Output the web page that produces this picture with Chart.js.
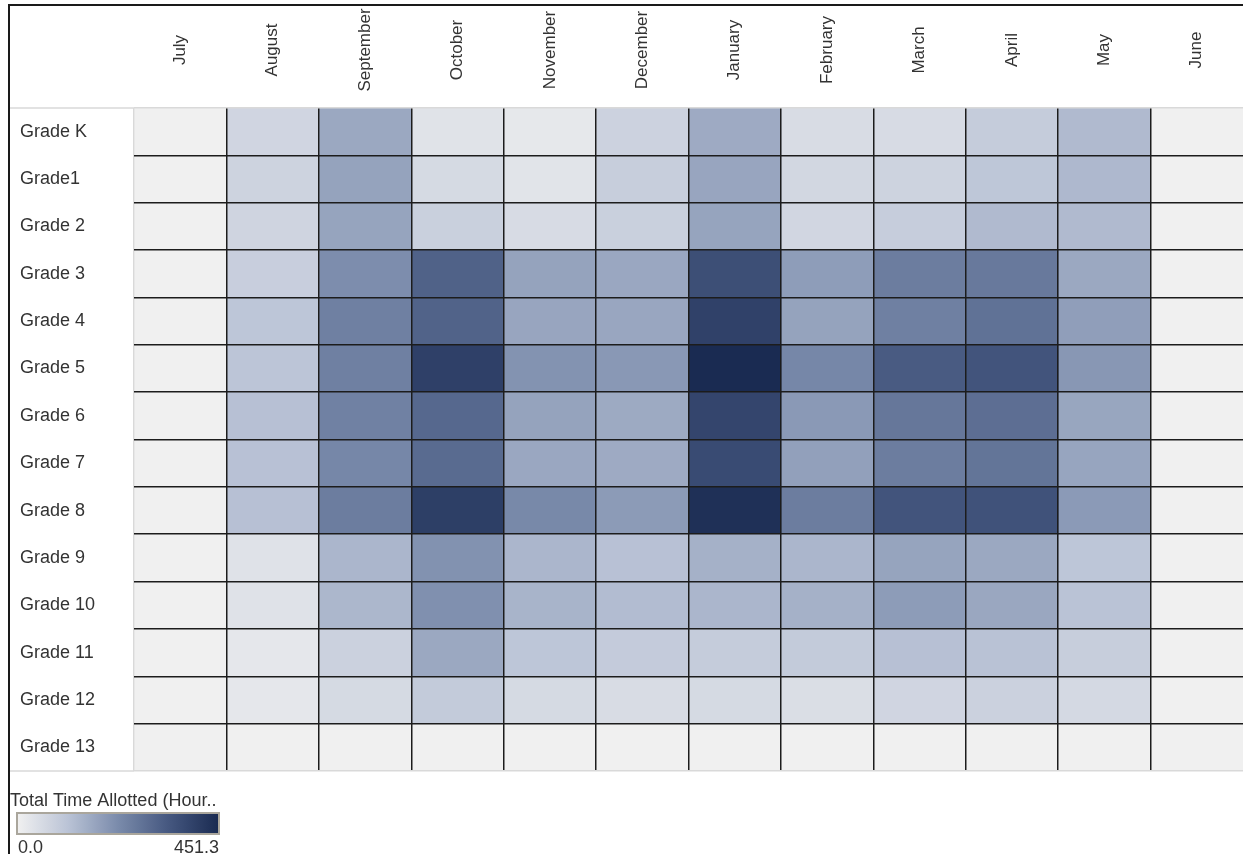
<!DOCTYPE html>
<html>
<head>
<meta charset="utf-8">
<script src="https://cdn.jsdelivr.net/npm/chart.js@4.4.1/dist/chart.umd.min.js"></script>
<style>
html,body{margin:0;padding:0;background:#fff;overflow:hidden}
#wrap{position:relative;width:1243px;height:854px}
canvas{display:block}
</style>
</head>
<body>
<div id="wrap"><canvas id="c" width="1243" height="854"></canvas></div>
<script>
// ---- data (hours allotted) ----
const months = ['July','August','September','October','November','December','January','February','March','April','May','June'];
const grades = ['Grade K','Grade1','Grade 2','Grade 3','Grade 4','Grade 5','Grade 6','Grade 7','Grade 8','Grade 9','Grade 10','Grade 11','Grade 12','Grade 13'];
// one array per month, values in grade order (K .. 13)
const july      = [0,0,0,0,0,0,0,0,0,0,0,0,0,0];
const august    = [67,73,69,84,106,108,118,116,118,36,36,23,23,0];
const september = [167,178,176,221,250,250,247,234,256,140,138,77,56,0];
const october   = [33,56,81,317,315,398,303,297,402,212,215,167,94,0];
const november  = [21,31,52,178,173,210,178,169,230,140,144,106,56,0];
const december  = [75,86,81,169,171,199,164,163,194,116,127,92,50,0];
const january   = [163,173,176,362,395,451.3,385,371,438,149,140,90,56,0];
const february  = [50,63,65,190,178,234,197,183,256,140,149,94,46,0];
const march     = [52,73,87,256,250,332,269,256,348,176,192,118,67,0];
const april     = [90,104,131,265,282,348,289,275,353,167,170,115,77,0];
const may       = [131,134,131,167,187,201,172,174,195,106,113,86,58,0];
const june      = [0,0,0,0,0,0,0,0,0,0,0,0,0,0];
const monthValues = [july,august,september,october,november,december,january,february,march,april,may,june];
const scaleMin = 0.0;
const scaleMax = 451.3;
const legendTitle = 'Total Time Allotted (Hour..';

// ---- colour ramp ----
const stops = [
  [0.00, [240,240,240]],
  [0.25, [186,195,214]],
  [0.50, [122,139,171]],
  [0.75, [70,88,128]],
  [1.00, [26,43,82]]
];
function ramp(t){
  t = Math.max(0, Math.min(1, t));
  for (let i = 1; i < stops.length; i++){
    if (t <= stops[i][0]){
      const [t0,c0] = stops[i-1], [t1,c1] = stops[i];
      const f = (t - t0) / (t1 - t0);
      const c = c0.map((v,k)=>Math.round(v + (c1[k]-v)*f));
      return 'rgb(' + c.join(',') + ')';
    }
  }
  return 'rgb(' + stops[stops.length-1][1].join(',') + ')';
}
function colorFor(v){ return ramp((v - scaleMin) / (scaleMax - scaleMin)); }

const FONT = '"Liberation Sans", Arial, Helvetica, sans-serif';
const TEXT = '#333333';
const LIGHT = '#d9d9d9';
const DARK = '#1c1c1c';

// each cell is one unit of the stacked month axis; its colour encodes the value
const datasets = monthValues.map((vals, i) => ({
  label: months[i],
  data: vals.map(() => 1),
  values: vals,
  backgroundColor: vals.map(colorFor),
  borderWidth: 0,
  barPercentage: 1,
  categoryPercentage: 1
}));

const decor = {
  id: 'decor',
  afterDraw(chart){
    const ctx = chart.ctx;
    const area = chart.chartArea;
    const xs = chart.scales.x;
    ctx.save();
    // outer frame
    ctx.fillStyle = '#1a1a1a';
    ctx.fillRect(8, 4, 1243 - 8, 2);
    ctx.fillRect(8, 4, 2, 854 - 4);
    // light separators across label column
    ctx.strokeStyle = LIGHT;
    ctx.lineWidth = 1.5;
    ctx.beginPath();
    ctx.moveTo(10, area.top); ctx.lineTo(area.left, area.top);
    ctx.moveTo(10, area.bottom); ctx.lineTo(area.left, area.bottom);
    ctx.stroke();
    // month headers
    ctx.fillStyle = TEXT;
    ctx.font = '17px ' + FONT;
    ctx.textAlign = 'center';
    ctx.textBaseline = 'middle';
    months.forEach((m, i) => {
      const x = xs.getPixelForValue(i + 0.5);
      ctx.save();
      ctx.translate(x, 50);
      ctx.rotate(-Math.PI / 2);
      ctx.fillText(m, 0, 0);
      ctx.restore();
    });
    // colour legend
    ctx.font = '18px ' + FONT;
    ctx.textAlign = 'left';
    ctx.textBaseline = 'alphabetic';
    ctx.fillText(legendTitle, 10, 806);
    const gx0 = 18, gx1 = 218, gy = 814, gh = 19;
    const g = ctx.createLinearGradient(gx0, 0, gx1, 0);
    for (let k = 0; k <= 20; k++) g.addColorStop(k / 20, ramp(k / 20));
    ctx.fillStyle = g;
    ctx.fillRect(gx0, gy, gx1 - gx0, gh);
    ctx.strokeStyle = '#aaa69c';
    ctx.lineWidth = 2;
    ctx.strokeRect(gx0 - 1, gy - 1, gx1 - gx0 + 2, gh + 2);
    ctx.fillStyle = TEXT;
    ctx.font = '18px ' + FONT;
    ctx.textAlign = 'left';
    ctx.fillText(scaleMin.toFixed(1), 18, 853);
    ctx.textAlign = 'right';
    ctx.fillText(scaleMax.toFixed(1), 219, 853);
    ctx.restore();
  }
};

new Chart(document.getElementById('c'), {
  type: 'bar',
  data: { labels: grades, datasets },
  plugins: [decor],
  options: {
    indexAxis: 'y',
    responsive: false,
    maintainAspectRatio: false,
    animation: false,
    layout: { padding: { top: 108, bottom: 83, left: 20, right: 0 } },
    plugins: { legend: { display: false }, tooltip: { enabled: false } },
    scales: {
      x: {
        type: 'linear', stacked: true, min: 0, max: months.length,
        ticks: { display: false, stepSize: 1 },
        border: { display: false },
        grid: {
          z: 1, drawTicks: false, tickLength: 0, lineWidth: 1.5,
          color: c => (c.index === 0 ? LIGHT : (c.index === months.length ? 'rgba(0,0,0,0)' : DARK))
        }
      },
      y: {
        type: 'category', stacked: true, offset: true,
        ticks: { crossAlign: 'far', color: TEXT, padding: 0, font: { family: FONT, size: 18 } },
        border: { display: false },
        grid: {
          z: 1, offset: true, drawTicks: false, tickLength: 0, lineWidth: 1.5,
          color: c => ((c.index === undefined || c.index === 0) ? LIGHT : DARK)
        },
        afterFit: s => { s.width = 114; }
      }
    }
  }
});
</script>
</body>
</html>
